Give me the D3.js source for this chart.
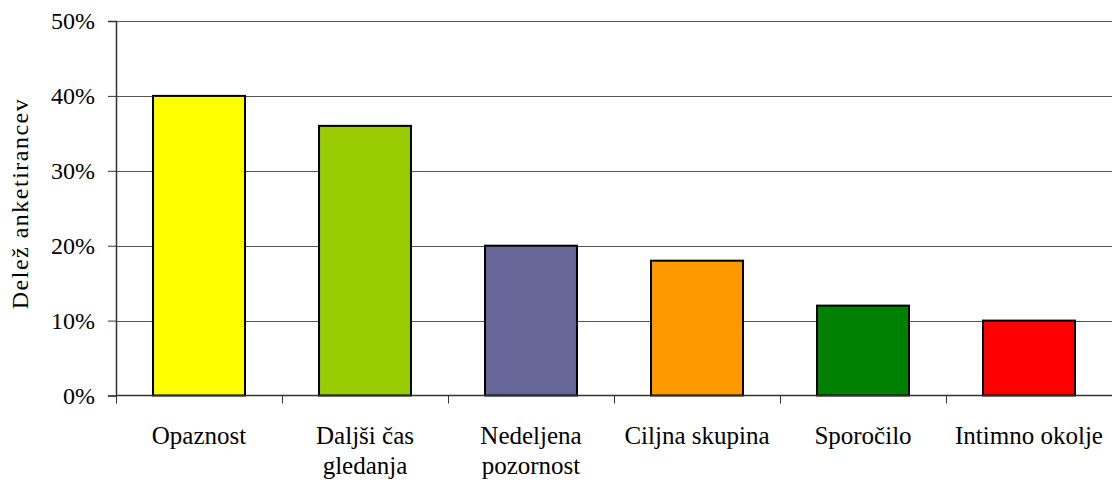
<!DOCTYPE html>
<html>
<head>
<meta charset="utf-8">
<script src="https://cdn.jsdelivr.net/npm/d3@7"></script>
<style>
  html, body { margin: 0; padding: 0; background: #fff; }
  svg { display: block; font-family: "Liberation Serif", "Times New Roman", serif; }
</style>
</head>
<body>
<svg id="chart" width="1112" height="485"></svg>
<script>
// Razlogi za izbiro – delež anketirancev
const categories = ["Opaznost", "Daljši čas gledanja", "Nedeljena pozornost", "Ciljna skupina", "Sporočilo", "Intimno okolje"];
const labelLines = [["Opaznost"], ["Daljši čas", "gledanja"], ["Nedeljena", "pozornost"], ["Ciljna skupina"], ["Sporočilo"], ["Intimno okolje"]];
const values = [0.40, 0.36, 0.20, 0.18, 0.12, 0.10];
const colors = ["#FFFF00", "#99CC00", "#666699", "#FF9900", "#008000", "#FF0000"];
const yTicks = [0, 0.1, 0.2, 0.3, 0.4, 0.5];
const yTitle = "Delež anketirancev";

const serif = "Liberation Serif, Times New Roman, serif";
const svg = d3.select("#chart");
const margin = { left: 116, right: 0, top: 21, bottom: 89.5 };
const W = 1112, H = 485;
const innerW = W - margin.left - margin.right;
const innerH = H - margin.top - margin.bottom;

const g = svg.append("g").attr("transform", `translate(${margin.left},${margin.top})`);

const x = d3.scaleBand().domain(categories).range([0, innerW]).paddingInner(0.446).paddingOuter(0.223);
const y = d3.scaleLinear().domain([0, 0.5]).range([innerH, 0]);

// horizontal gridlines
g.append("g").selectAll("line").data(yTicks.filter(d => d > 0)).join("line")
  .attr("x1", 0).attr("x2", innerW)
  .attr("y1", d => Math.round(y(d)) + 0.5).attr("y2", d => Math.round(y(d)) + 0.5)
  .attr("stroke", "#555").attr("stroke-width", 1);

// bars
g.append("g").selectAll("rect").data(categories).join("rect")
  .attr("x", d => x(d))
  .attr("y", (d, i) => y(values[i]))
  .attr("width", x.bandwidth())
  .attr("height", (d, i) => innerH - y(values[i]))
  .attr("fill", (d, i) => colors[i])
  .attr("stroke", "#000").attr("stroke-width", 2);

// y axis
const yAxis = d3.axisLeft(y).tickValues(yTicks).tickFormat(d3.format(".0%")).tickSize(8).tickPadding(13);
const ya = g.append("g").call(yAxis);
ya.attr("font-family", serif).attr("font-size", 24);
ya.select(".domain").attr("stroke", "#333").attr("stroke-width", 1.5);
ya.selectAll(".tick line").attr("stroke", "#333");
ya.selectAll(".tick text").attr("fill", "#000");

// x axis with ticks at category boundaries
const boundaries = d3.range(categories.length + 1).map(i => i * x.step());
const xa = g.append("g").attr("transform", `translate(0,${innerH})`);
xa.append("line").attr("x1", 0).attr("x2", innerW).attr("y1", 0).attr("y2", 0)
  .attr("stroke", "#333").attr("stroke-width", 1.5);
xa.selectAll("line.tk").data(boundaries).join("line").attr("class", "tk")
  .attr("x1", d => Math.round(d) + 0.5).attr("x2", d => Math.round(d) + 0.5)
  .attr("y1", 0).attr("y2", 8).attr("stroke", "#333").attr("stroke-width", 1);

// category labels
const lab = xa.selectAll("text.cat").data(categories).join("text").attr("class", "cat")
  .attr("text-anchor", "middle")
  .attr("font-family", serif)
  .attr("font-size", 25)
  .attr("fill", "#000")
  .attr("transform", d => `translate(${x(d) + x.bandwidth() / 2},48)`);
lab.each(function(d, i) {
  d3.select(this).selectAll("tspan").data(labelLines[i]).join("tspan")
    .attr("x", 0).attr("dy", (t, j) => j === 0 ? 0 : 30).text(t => t);
});

// y axis title
svg.append("text")
  .attr("transform", `translate(28,${margin.top + innerH / 2 - 4}) rotate(-90)`)
  .attr("text-anchor", "middle")
  .attr("font-family", serif)
  .attr("font-size", 24)
  .attr("textLength", 210)
  .attr("lengthAdjust", "spacing")
  .attr("fill", "#000")
  .text(yTitle);
</script>
</body>
</html>
